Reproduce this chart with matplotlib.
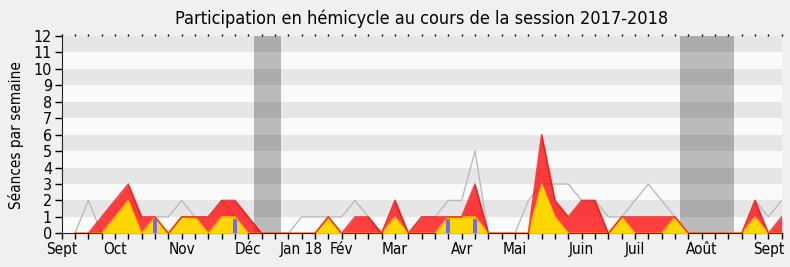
import numpy as np
import matplotlib
matplotlib.use("Agg")
import matplotlib.pyplot as plt

# weekly data (week index from the start of the session)
weeks = list(range(1, 55))
seances = [0, 0, 1, 2, 3, 1, 1, 0, 1, 1, 1, 2, 2, 1, 0, 0, 0, 0, 0, 1,
           0, 1, 1, 0, 2, 0, 1, 1, 1, 1, 3, 0, 0, 0, 0, 6, 2, 1, 2, 2,
           0, 1, 1, 1, 1, 1, 0, 0, 0, 0, 0, 2, 0, 1]
interventions = [0, 0, 0, 1, 2, 0, 1, 0, 1, 1, 0, 1, 1, 0, 0, 0, 0, 0, 0, 1,
                 0, 0, 0, 0, 1, 0, 0, 0, 1, 1, 1, 0, 0, 0, 0, 3, 1, 0, 0, 0,
                 0, 1, 0, 0, 0, 1, 0, 0, 0, 0, 0, 1, 0, 0]
mediane = [0, 2, 0, 1, 2, 0, 1, 1, 2, 1, 1, 2, 1, 0, 0, 0, 0, 1, 1, 1,
           1, 2, 1, 0, 2, 0, 1, 1, 2, 2, 5, 0, 0, 0, 2, 3, 3, 3, 2, 2,
           1, 1, 2, 3, 2, 1, 0, 0, 0, 0, 0, 2, 1, 2]
question_weeks = [7, 13, 29, 31]
question_vals = [0.85, 0.85, 0.85, 0.85]

month_weeks = [0, 4, 9, 14, 18, 21, 25, 30, 34, 39, 43, 48, 53]
month_labels = ["Sept", "Oct", "Nov", "Déc", "Jan 18", "Fév", "Mar", "Avr",
                "Mai", "Juin", "Juil", "Août", "Sept"]
vacances = [(14.45, 16.45), (46.4, 50.4)]

plt.rcParams['font.family'] = ['DejaVu Sans']
plt.rcParams['font.stretch'] = 'condensed'

fig = plt.figure(figsize=(7.9, 2.67), dpi=100, facecolor="#f0f0f0")
ax = fig.add_axes([0.078, 0.126, 0.9115, 0.739])
ax.set_facecolor("#fafafa")

# horizontal bands
for k in range(1, 12, 2):
    ax.axhspan(k, k + 1, color="#e6e6e6", lw=0, zorder=0)

# holidays
for a, b in vacances:
    ax.axvspan(a, b, color="black", alpha=0.25, lw=0, zorder=1)

ax.plot(weeks, mediane, color="#bbbbbb", lw=1, zorder=2)
ax.fill_between(weeks, seances, color="#ff0000", alpha=0.75, lw=0, zorder=3)
ax.fill_between(weeks, interventions, color="#ffd700", lw=0, zorder=4)
ax.plot(weeks, interventions, color="#f0c000", lw=1, zorder=5)
ax.plot(weeks, seances, color="#ff0000", lw=1.2, alpha=0.7, zorder=6)
ax.bar(question_weeks, question_vals, width=0.3, color="#6b6bff", zorder=7)

ax.set_xlim(0, 54)
ax.set_ylim(0, 12)
ax.set_yticks(range(13))
ax.set_xticks(range(55))
labels = [""] * 55
for w, lab in zip(month_weeks, month_labels):
    labels[w] = lab
ax.set_xticklabels(labels)
ax.tick_params(axis="x", length=4, width=1, labelsize=11, pad=2, top=True)
ax.tick_params(axis="y", length=5, width=1, labelsize=11.5, pad=2)
for t in ax.xaxis.get_major_ticks():
    t.tick2line.set_markersize(1.5)

for s in ["top", "right"]:
    ax.spines[s].set_visible(False)
ax.spines["left"].set_color("#222222")
ax.spines["bottom"].set_color("#222222")

ax.set_ylabel("Séances par semaine", fontsize=11, labelpad=7)
ax.set_title("Participation en hémicycle au cours de la session 2017-2018",
             fontsize=13, pad=9)

fig.savefig("out.png", dpi=100, facecolor=fig.get_facecolor())
